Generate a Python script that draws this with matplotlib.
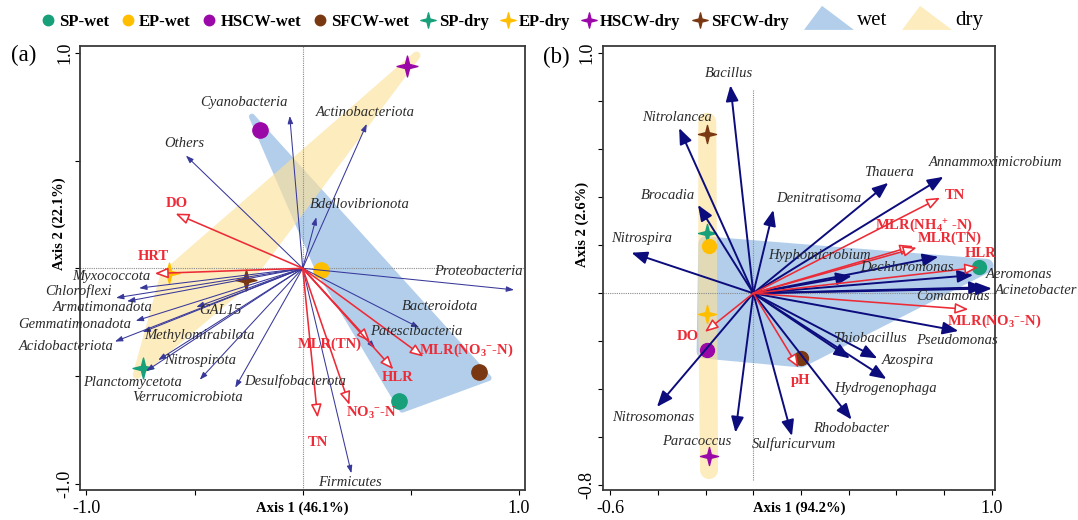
import numpy as np
import matplotlib
matplotlib.use('Agg')
import matplotlib.pyplot as plt
from matplotlib.path import Path
from matplotlib.patches import Polygon, Patch
from matplotlib.lines import Line2D
from matplotlib.legend_handler import HandlerPatch

plt.rcParams['font.family'] = ['Liberation Serif', 'DejaVu Serif']
plt.rcParams['mathtext.fontset'] = 'custom'
plt.rcParams['mathtext.rm'] = 'Liberation Serif:bold'
plt.rcParams['mathtext.it'] = 'Liberation Serif:bold'
plt.rcParams['mathtext.bf'] = 'Liberation Serif:bold'
plt.rcParams['mathtext.default'] = 'rm'

# ---------------- data ----------------
sites = ['SP', 'EP', 'HSCW', 'SFCW']
site_colors = ['#17a07a', '#ffbf00', '#9a09a8', '#7a3812']

# panel (a): phylum level
a_wet_x = [0.447, 0.085, -0.196, 0.817]
a_wet_y = [-0.616, -0.008, 0.643, -0.480]
a_dry_x = [-0.740, -0.620, 0.480, -0.260]
a_dry_y = [-0.461, -0.024, 0.937, -0.056]

a_species = ['Cyanobacteria', 'Actinobacteriota', 'Others', 'Bdellovibrionota',
             'Proteobacteria', 'Bacteroidota', 'Patescibacteria', 'Firmicutes',
             'Desulfobacterota', 'Verrucomicrobiota', 'Nitrospirota', 'Planctomycetota',
             'Methylomirabilota', 'Acidobacteriota', 'Gemmatimonadota', 'GAL15',
             'Armatimonadota', 'Chloroflexi', 'Myxococcota']
a_sp_x = [-0.060, 0.296, -0.540, 0.063, 0.977, 0.539, 0.334, 0.225, -0.312, -0.476,
          -0.668, -0.724, -0.740, -0.868, -0.772, -0.492, -0.812, -0.863, -0.756]
a_sp_y = [0.707, 0.670, 0.523, 0.237, -0.100, -0.276, -0.371, -0.951, -0.554, -0.517,
          -0.426, -0.477, -0.296, -0.340, -0.244, -0.180, -0.153, -0.137, -0.092]

a_env = ['DO', 'HRT', 'MLR(TN)', 'MLR(NO$_3$$^{-}$-N)', 'HLR', 'NO$_3$$^{-}$-N', 'TN']
a_env_x = [-0.588, -0.684, 0.311, 0.558, 0.419, 0.216, 0.069]
a_env_y = [0.254, -0.024, -0.341, -0.410, -0.469, -0.634, -0.693]

# panel (b): genus level
b_wet_x = [0.948, -0.186, -0.193, 0.200]
b_wet_y = [0.108, 0.198, -0.235, -0.271]
b_dry_x = [-0.193, -0.193, -0.186, -0.193]
b_dry_y = [0.250, -0.085, -0.679, 0.664]

b_species = ['Bacillus', 'Nitrolancea', 'Brocadia', 'Nitrospira', 'Denitratisoma',
             'Thauera', 'Annammoximicrobium', 'Hyphomicrobium', 'Dechloromonas',
             'Aeromonas', 'Acinetobacter', 'Comamonas', 'Pseudomonas', 'Thiobacillus',
             'Azospira', 'Hydrogenophaga', 'Rhodobacter', 'Sulfuricurvum', 'Paracoccus',
             'Nitrosomonas']
b_sp_x = [-0.096, -0.311, -0.232, -0.511, 0.084, 0.566, 0.797, 0.413, 0.776, 0.922,
          1.000, 0.971, 0.860, 0.405, 0.520, 0.558, 0.412, 0.162, -0.075, -0.404]
b_sp_y = [0.866, 0.688, 0.368, 0.169, 0.347, 0.460, 0.485, 0.072, 0.152, 0.076,
          0.020, 0.025, -0.157, -0.271, -0.271, -0.357, -0.526, -0.594, -0.580, -0.473]

b_env = ['TN', 'MLR(NH$_4$$^{+}$ -N)', 'MLR(TN)', 'HLR', 'MLR(NO$_3$$^{-}$-N)', 'DO', 'pH']
b_env_x = [0.783, 0.671, 0.685, 0.943, 0.902, -0.203, 0.190]
b_env_y = [0.398, 0.197, 0.190, 0.108, -0.067, -0.161, -0.310]

# axis tick labels
a_xticks = [-1.0, -0.5, 0.0, 0.5, 1.0]
a_xticklabels = ['-1.0', '', '', '', '1.0']
a_yticks = [-1.0, -0.5, 0.0, 0.5, 1.0]
a_yticklabels = ['-1.0', '', '', '', '1.0']
b_xticks = [-0.6, -0.4, -0.2, 0.0, 0.2, 0.4, 0.6, 0.8, 1.0]
b_xticklabels = ['-0.6', '', '', '', '', '', '', '', '1.0']
b_yticks = [-0.8, -0.6, -0.4, -0.2, 0.0, 0.2, 0.4, 0.6, 0.8, 1.0]
b_yticklabels = ['-0.8', '', '', '', '', '', '', '', '', '1.0']

# ---------------- layout (label offsets in points) ----------------
a_sp_off = [(-33, 9.4), (-0.7, 8.2), (-0.8, 8.7), (31.4, 9.4), (-25.8, 13.3), (14.9, 15.1),
            (30, 12), (-0.8, -7), (42.9, 5), (-8.7, -12.5), (29.9, 0), (-9.9, -8),
            (41.1, -2.7), (-34.8, -3.7), (-43.6, -2.5), (17.5, -2.5), (-17.4, -4.2),
            (-26.9, 4.5), (-19.9, 8.3)]
a_env_off = [(1.2, 7.2), (-1.2, 12), (-29.3, -1.9), (31.2, 4.3), (3.2, -6), (16.1, -5.5),
             (0.2, -18.2)]
b_sp_off = [(-1.2, 8.6), (-1.2, 7.4), (-21.6, 6.9), (7.4, 9.9), (32.4, 7.9), (0.5, 7.5),
            (37.9, 10.1), (-23.3, 14.4), (-22.8, -7.6), (32.8, 0.3), (31.8, -1.4),
            (-22.8, -6.8), (-1.2, -7), (14.5, 14.5), (22.1, -1.2), (-0.5, -6.6), (0, -6.4),
            (1.2, -6.1), (-27.5, -6.6), (-2.4, -7.3)]
b_env_off = [(10.8, 1.9), (7.7, 15.1), (24, 6.5), (1.7, 10.1), (18.5, -8.9), (-12.2, -3.2),
             (1.2, -9.1)]

WET_C = '#9fc2e6'
DRY_C = '#fde29c'
RED = '#ec2b36'
NAVY_A = '#38389a'
NAVY_B = '#0c0c7c'
TXT = '#2a2a2a'

STAR = Path([(0, 1), (0.2, 0.2), (1, 0), (0.2, -0.2), (0, -1), (-0.2, -0.2), (-1, 0),
             (-0.2, 0.2), (0, 1)],
            [Path.MOVETO] + [Path.LINETO] * 7 + [Path.CLOSEPOLY])


def convex_hull(pts):
    pts = sorted(map(tuple, pts))
    def cross(o, a, b):
        return (a[0] - o[0]) * (b[1] - o[1]) - (a[1] - o[1]) * (b[0] - o[0])
    lower, upper = [], []
    for p in pts:
        while len(lower) >= 2 and cross(lower[-2], lower[-1], p) <= 0:
            lower.pop()
        lower.append(p)
    for p in reversed(pts):
        while len(upper) >= 2 and cross(upper[-2], upper[-1], p) <= 0:
            upper.pop()
        upper.append(p)
    return np.array(lower[:-1] + upper[:-1])


def grown_hull(ax, xs, ys, k, r_px, n=16):
    """Hull of the points pushed out from their centroid by factor k, then
    padded by r_px pixels (computed in display space)."""
    pts = ax.transData.transform(np.column_stack([xs, ys]))
    c = pts.mean(axis=0)
    pts = c + k * (pts - c)
    ang = np.linspace(0, 2 * np.pi, n, endpoint=False)
    circ = np.column_stack([np.cos(ang), np.sin(ang)]) * r_px
    allp = (pts[:, None, :] + circ[None, :, :]).reshape(-1, 2)
    hull = convex_hull(allp)
    return ax.transData.inverted().transform(hull)


fig = plt.figure(figsize=(10.78, 5.2), dpi=100)
W, H = 1078.0, 520.0


def make_panel(rect_px, xlim, ylim, xticks, xtl, yticks, ytl, xlabel, ylabel,
               wet_x, wet_y, dry_x, dry_y, sp, spx, spy, sp_off, env, envx, envy, env_off,
               heavy, vline_frac, grow, circ_ms, star_ms):
    l, r, t, b = rect_px
    ax = fig.add_axes([l / W, 1 - b / H, (r - l) / W, (b - t) / H])
    ax.set_xlim(xlim)
    ax.set_ylim(ylim)
    for s in ax.spines.values():
        s.set_linewidth(1.3)
        s.set_color('#3a3a3a')
    ax.set_xticks(xticks)
    ax.set_xticklabels(xtl, fontsize=13)
    ax.set_yticks(yticks)
    ax.set_yticklabels(ytl, fontsize=13, rotation=90, va='center')
    ax.tick_params(axis='x', direction='out', length=3.5, width=0.8, pad=4)
    ax.tick_params(axis='y', direction='out', length=3.5, width=0.8, pad=1.5)
    ax.set_xlabel(xlabel, fontsize=10.5, fontweight='bold')
    ax.set_ylabel(ylabel, fontsize=10.5, fontweight='bold')
    ax.xaxis.set_label_coords(0.5, -0.026)
    ax.yaxis.set_label_coords(-14.0 / (r - l), (b - 224.0) / (b - t))

    # hull shapes
    (kw, rw), (kd, rd) = grow
    wet_poly = grown_hull(ax, wet_x, wet_y, kw, rw)
    dry_poly = grown_hull(ax, dry_x, dry_y, kd, rd)
    ax.add_patch(Polygon(wet_poly, closed=True, facecolor=WET_C, edgecolor='none',
                         alpha=0.8, zorder=1))
    ax.add_patch(Polygon(dry_poly, closed=True, facecolor=DRY_C, edgecolor='none',
                         alpha=0.65, zorder=1.1))

    # dotted zero lines
    ax.axhline(0, color='#8a8a8a', lw=0.8, ls=(0, (1, 1)), zorder=1.5)
    ax.axvline(0, ymin=vline_frac[0], ymax=vline_frac[1], color='#8a8a8a', lw=0.8,
               ls=(0, (1, 1)), zorder=1.5)

    # sample points
    for i, c in enumerate(site_colors):
        ax.plot(wet_x[i], wet_y[i], marker='o', ms=circ_ms, color=c, ls='none', zorder=3)
        ax.plot(dry_x[i], dry_y[i], marker=STAR, ms=star_ms, color=c, ls='none', zorder=3)

    # species arrows
    if heavy:
        sp_style = '-|>,head_length=0.95,head_width=0.38'
        sp_lw, sp_col = 1.4, NAVY_B
    else:
        sp_style = '-|>,head_length=0.45,head_width=0.16'
        sp_lw, sp_col = 0.75, NAVY_A
    for name, x, y, off in zip(sp, spx, spy, sp_off):
        ax.annotate('', xy=(x, y), xytext=(0, 0),
                    arrowprops=dict(arrowstyle=sp_style, color=sp_col, lw=sp_lw,
                                    shrinkA=0, shrinkB=0, mutation_scale=10),
                    zorder=4)
        ax.annotate(name, xy=(x, y), xytext=off, textcoords='offset points',
                    ha='center', va='center', fontsize=10.5, fontstyle='italic',
                    color=TXT, zorder=6, annotation_clip=False)

    # environmental arrows
    for name, x, y, off in zip(env, envx, envy, env_off):
        ax.annotate('', xy=(x, y), xytext=(0, 0),
                    arrowprops=dict(arrowstyle='-|>,head_length=0.8,head_width=0.32',
                                    fc='white', ec=RED, lw=1.15,
                                    shrinkA=0, shrinkB=0, mutation_scale=10),
                    zorder=5)
        ax.annotate(name, xy=(x, y), xytext=off, textcoords='offset points',
                    ha='center', va='center', fontsize=10.5, fontweight='bold',
                    color=RED, zorder=6, annotation_clip=False)
    return ax


axa = make_panel((80, 525, 46, 490), (-1.0296, 1.0277), (-1.0288, 1.0316),
                 a_xticks, a_xticklabels, a_yticks, a_yticklabels,
                 'Axis 1 (46.1%)', 'Axis 2 (22.1%)',
                 a_wet_x, a_wet_y, a_dry_x, a_dry_y,
                 a_species, a_sp_x, a_sp_y, a_sp_off, a_env, a_env_x, a_env_y, a_env_off,
                 heavy=False, vline_frac=(0, 1), grow=((1.08, 3), (1.06, 4)),
                 circ_ms=11, star_ms=15)

axb = make_panel((602.7, 995, 46, 490), (-0.6315, 1.0134), (-0.819, 1.0296),
                 b_xticks, b_xticklabels, b_yticks, b_yticklabels,
                 'Axis 1 (94.2%)', 'Axis 2 (2.6%)',
                 b_wet_x, b_wet_y, b_dry_x, b_dry_y,
                 b_species, b_sp_x, b_sp_y, b_sp_off, b_env, b_env_x, b_env_y, b_env_off,
                 heavy=True, vline_frac=(0.023, 0.904), grow=((1.04, 7), (1.08, 9)),
                 circ_ms=10, star_ms=13)

fig.text(24 / W, 1 - 55 / H, '(a)', fontsize=16.5, ha='center', va='center')
fig.text(556 / W, 1 - 57 / H, '(b)', fontsize=16.5, ha='center', va='center')

# ---------------- legends ----------------
handles1, labels1 = [], []
for s, c in zip(sites, site_colors):
    handles1.append(Line2D([], [], marker='o', color=c, ls='none', ms=7.5))
    labels1.append(s + '-wet')
for s, c in zip(sites, site_colors):
    handles1.append(Line2D([], [], marker=STAR, color=c, ls='none', ms=11))
    labels1.append(s + '-dry')

fig.legend(handles1, labels1, loc='center left', bbox_to_anchor=(42 / W, 1 - 22 / H),
           ncol=8, frameon=False, borderpad=0, borderaxespad=0, handlelength=0.7,
           handletextpad=0.3, columnspacing=0.8,
           prop={'family': 'Liberation Serif', 'weight': 'bold', 'size': 12})


def tri_patch(legend, orig_handle, xdescent, ydescent, width, height, fontsize):
    x0, y0 = -xdescent, -ydescent
    return Polygon([[x0, y0 - 0.35 * height], [x0 + width, y0 - 0.35 * height],
                    [x0 + 0.36 * width, y0 + 1.3 * height]], closed=True)


handles2 = [Patch(facecolor=WET_C, edgecolor='none', alpha=0.8),
            Patch(facecolor=DRY_C, edgecolor='none', alpha=0.65)]
fig.legend(handles2, ['wet', 'dry'], loc='center left', bbox_to_anchor=(804 / W, 1 - 20 / H),
           ncol=2, frameon=False, borderpad=0, borderaxespad=0, handlelength=2.4,
           handletextpad=0.15, columnspacing=0.7,
           handler_map={Patch: HandlerPatch(patch_func=tri_patch)},
           prop={'family': 'Liberation Serif', 'size': 15})

fig.savefig('out.png', dpi=100)
